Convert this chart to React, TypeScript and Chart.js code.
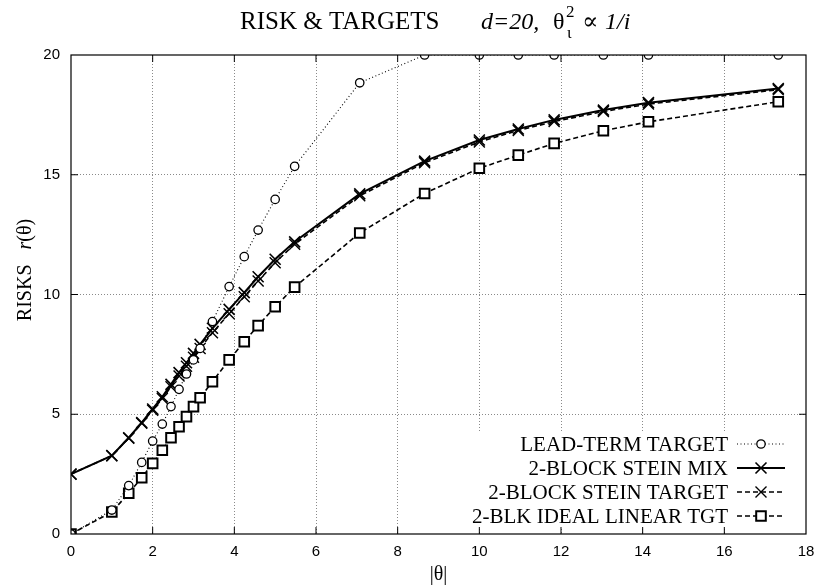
import React, { useEffect, useRef } from "react";
import { Chart, registerables } from "chart.js";

Chart.register(...registerables);

// |theta| positions of the sampled points
const thetaNorm = [0, 1, 1.414, 1.732, 2, 2.236, 2.449, 2.646, 2.828, 3, 3.162, 3.464, 3.873, 4.243, 4.583, 5, 5.477, 7.071, 8.66, 10, 10.954, 11.832, 13.038, 14.142, 17.321];

const leadTermTarget = [0, 1.0, 2.02, 2.99, 3.88, 4.59, 5.32, 6.04, 6.68, 7.27, 7.75, 8.87, 10.33, 11.58, 12.69, 13.97, 15.35, 18.84, 20, 20, 20, 20, 20, 20, 20];
const steinMix = [2.5, 3.27, 4.02, 4.65, 5.22, 5.73, 6.25, 6.74, 7.15, 7.54, 7.92, 8.59, 9.38, 10.08, 10.74, 11.47, 12.2, 14.2, 15.57, 16.45, 16.91, 17.29, 17.7, 18.01, 18.6];
const steinTarget = [2.5, 3.27, 4.0, 4.62, 5.17, 5.66, 6.15, 6.6, 7.0, 7.38, 7.75, 8.4, 9.2, 9.91, 10.56, 11.33, 12.1, 14.12, 15.5, 16.37, 16.85, 17.22, 17.64, 17.95, 18.55];
const idealLinear = [0, 0.92, 1.7, 2.35, 2.95, 3.5, 4.02, 4.48, 4.9, 5.32, 5.69, 6.36, 7.27, 8.03, 8.7, 9.49, 10.31, 12.57, 14.22, 15.27, 15.82, 16.31, 16.84, 17.21, 18.05];

const seriesLabels = ["LEAD-TERM TARGET", "2-BLOCK STEIN MIX", "2-BLOCK STEIN TARGET", "2-BLK IDEAL LINEAR TGT"];
const xMin = 0, xMax = 18, xStep = 2;
const yMin = 0, yMax = 20, yStep = 5;

const SERIF = '"Liberation Serif", "Times New Roman", serif';
const SANS = '"Liberation Sans", Arial, sans-serif';

type Sty = { dash: number[]; width: number; marker: string; mSize: number; mWidth: number };
const styles: Sty[] = [
  { dash: [1, 2.5], width: 1.1, marker: "circle", mSize: 4.2, mWidth: 1.3 },
  { dash: [], width: 2, marker: "cross", mSize: 5.5, mWidth: 1.6 },
  { dash: [5, 3], width: 1.6, marker: "cross", mSize: 5.5, mWidth: 1.4 },
  { dash: [5, 3], width: 1.6, marker: "square", mSize: 4.8, mWidth: 2 },
];
const seriesValues = [leadTermTarget, steinMix, steinTarget, idealLinear];

function drawMarker(ctx: CanvasRenderingContext2D, kind: string, x: number, y: number, s: number, w: number) {
  ctx.save();
  ctx.setLineDash([]);
  ctx.lineWidth = w;
  ctx.strokeStyle = "#000";
  ctx.fillStyle = "#fff";
  ctx.beginPath();
  if (kind === "circle") {
    ctx.arc(x, y, s, 0, Math.PI * 2);
    ctx.fill();
    ctx.stroke();
  } else if (kind === "square") {
    ctx.rect(x - s, y - s, 2 * s, 2 * s);
    ctx.fill();
    ctx.stroke();
  } else {
    ctx.moveTo(x - s, y - s);
    ctx.lineTo(x + s, y + s);
    ctx.moveTo(x - s, y + s);
    ctx.lineTo(x + s, y - s);
    ctx.stroke();
  }
  ctx.restore();
}

const decoPlugin = {
  id: "deco",
  afterDatasetsDraw(chart: any) {
    const ctx: CanvasRenderingContext2D = chart.ctx;
    const a = chart.chartArea;
    const xs = chart.scales.x;
    const ys = chart.scales.y;
    ctx.save();

    // legend (opaque key)
    ctx.fillStyle = "#fff";
    ctx.fillRect(a.right - 338, a.bottom - 102, 332, 96);
    ctx.font = `21px ${SERIF}`;
    ctx.fillStyle = "#000";
    ctx.textAlign = "right";
    ctx.textBaseline = "middle";
    for (let i = 0; i < seriesLabels.length; i++) {
      const yy = a.bottom - 90 + i * 24;
      ctx.fillText(seriesLabels[i], a.right - 78, yy + 1);
      const st = styles[i];
      ctx.save();
      ctx.strokeStyle = "#000";
      ctx.lineWidth = st.width;
      ctx.setLineDash(st.dash);
      ctx.beginPath();
      ctx.moveTo(a.right - 69, yy);
      ctx.lineTo(a.right - 21, yy);
      ctx.stroke();
      ctx.restore();
      drawMarker(ctx, st.marker, a.right - 45, yy, st.mSize, st.mWidth);
    }

    // border box
    ctx.strokeStyle = "#000";
    ctx.lineWidth = 1.2;
    ctx.setLineDash([]);
    ctx.strokeRect(a.left, a.top, a.right - a.left, a.bottom - a.top);

    // inward ticks (mirrored)
    ctx.lineWidth = 1;
    ctx.beginPath();
    for (let v = xMin + xStep; v < xMax; v += xStep) {
      const px = xs.getPixelForValue(v);
      ctx.moveTo(px, a.bottom);
      ctx.lineTo(px, a.bottom - 7);
      ctx.moveTo(px, a.top);
      ctx.lineTo(px, a.top + 7);
    }
    for (let v = yMin + yStep; v < yMax; v += yStep) {
      const py = ys.getPixelForValue(v);
      ctx.moveTo(a.left, py);
      ctx.lineTo(a.left + 7, py);
      ctx.moveTo(a.right, py);
      ctx.lineTo(a.right - 7, py);
    }
    ctx.stroke();
    ctx.restore();
  },
  afterDraw(chart: any) {
    const ctx: CanvasRenderingContext2D = chart.ctx;
    const a = chart.chartArea;
    ctx.save();
    ctx.fillStyle = "#000";
    ctx.textBaseline = "alphabetic";
    ctx.textAlign = "left";

    // title
    ctx.font = `25px ${SERIF}`;
    ctx.fillText("RISK & TARGETS", 240, 29);
    ctx.font = `italic 24px ${SERIF}`;
    ctx.fillText("d=20,", 481, 29);
    ctx.font = `24px ${SERIF}`;
    ctx.fillText("θ", 553, 29);
    ctx.font = `17px ${SERIF}`;
    ctx.fillText("2", 566, 17);
    ctx.fillText("ι", 567, 38);
    ctx.font = `24px "DejaVu Serif", ${SERIF}`;
    ctx.fillText("∝", 582, 29);
    ctx.font = `italic 24px ${SERIF}`;
    ctx.fillText("1/i", 605, 29);

    // y-axis title (rotated)
    ctx.save();
    ctx.translate(31, 270);
    ctx.rotate(-Math.PI / 2);
    const f1 = `20px ${SERIF}`;
    const f2 = `italic 20px ${SERIF}`;
    ctx.font = f1;
    const w1 = ctx.measureText("RISKS   ").width;
    ctx.font = f2;
    const w2 = ctx.measureText("r").width;
    ctx.font = f1;
    const w3 = ctx.measureText("(θ)").width;
    let sx = -(w1 + w2 + w3) / 2;
    ctx.fillText("RISKS   ", sx, 0);
    sx += w1;
    ctx.font = f2;
    ctx.fillText("r", sx, 0);
    sx += w2;
    ctx.font = f1;
    ctx.fillText("(θ)", sx, 0);
    ctx.restore();

    // x-axis title
    ctx.font = `20px ${SERIF}`;
    ctx.textAlign = "center";
    ctx.fillText("|θ|", (a.left + a.right) / 2, 580);
    ctx.restore();
  },
};

export default function App() {
  const ref = useRef<HTMLCanvasElement | null>(null);

  useEffect(() => {
    if (!ref.current) return;
    const datasets = seriesLabels.map((label, i) => {
      const st = styles[i];
      const ps = st.marker === "circle" ? "circle" : st.marker === "square" ? "rect" : "crossRot";
      return {
        label,
        data: thetaNorm.map((x, k) => ({ x, y: seriesValues[i][k] })),
        showLine: true,
        borderColor: "#000",
        borderWidth: st.width,
        borderDash: st.dash,
        pointStyle: ps,
        pointRadius: st.marker === "circle" ? st.mSize : st.mSize * Math.SQRT2,
        pointBorderWidth: st.mWidth,
        pointBorderColor: "#000",
        pointBackgroundColor: "#fff",
        fill: false,
        tension: 0,
      };
    });

    const edgeColor = (min: number, max: number) => (c: any) =>
      c.tick && (c.tick.value === min || c.tick.value === max) ? "rgba(0,0,0,0)" : "#8a8a8a";

    const chart = new Chart(ref.current, {
      type: "scatter",
      data: { datasets: datasets as any },
      options: {
        animation: false,
        responsive: false,
        devicePixelRatio: 1,
        layout: { padding: { top: 55, right: 11, left: 0, bottom: 0 } },
        plugins: { legend: { display: false }, tooltip: { enabled: false }, title: { display: false } },
        scales: {
          x: {
            type: "linear",
            min: xMin,
            max: xMax,
            ticks: { stepSize: xStep, color: "#000", font: { family: SANS, size: 15 }, padding: 9, maxRotation: 0 },
            grid: { color: edgeColor(xMin, xMax), lineWidth: 1, drawTicks: false },
            border: { display: false, dash: [1, 2] },
            afterFit: (s: any) => { s.height = 51; s.paddingLeft = 0; s.paddingRight = 0; },
          },
          y: {
            type: "linear",
            min: yMin,
            max: yMax,
            ticks: { stepSize: yStep, color: "#000", font: { family: SANS, size: 15 }, padding: 11 },
            grid: { color: edgeColor(yMin, yMax), lineWidth: 1, drawTicks: false },
            border: { display: false, dash: [1, 2] },
            afterFit: (s: any) => { s.width = 71; s.paddingTop = 0; s.paddingBottom = 0; },
          },
        },
      },
      plugins: [decoPlugin],
    } as any);
    return () => chart.destroy();
  }, []);

  return (
    <div style={{ position: "absolute", left: 0, top: 0, width: 817, height: 585, background: "#fff" }}>
      <canvas ref={ref} width={817} height={585} style={{ display: "block" }} />
    </div>
  );
}
